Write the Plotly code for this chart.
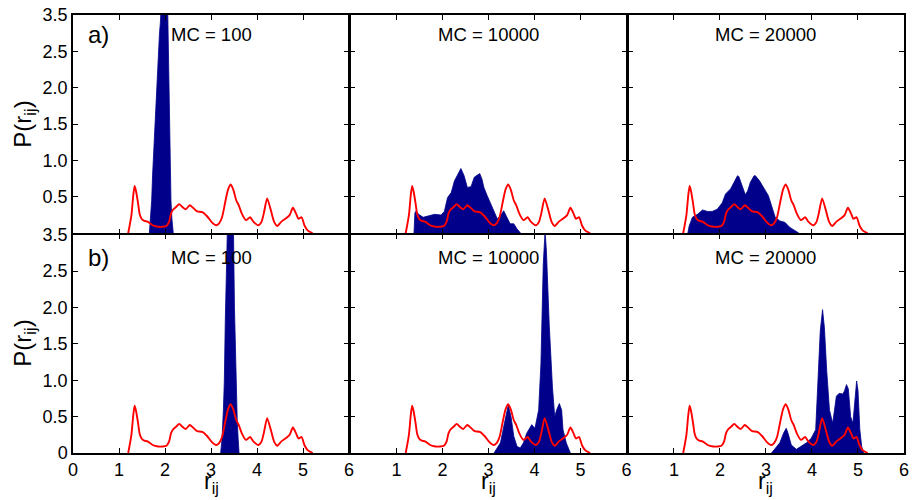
import plotly.graph_objects as go
from plotly.subplots import make_subplots

# ---------------- data ----------------
# reference distribution (red line), identical in every panel
ref_x = [1.20, 1.27, 1.31, 1.34, 1.37, 1.41, 1.45, 1.49, 1.55, 1.62, 1.73, 1.85, 1.95, 2.03, 2.09,
         2.13, 2.17, 2.24, 2.31, 2.38, 2.45, 2.54, 2.61, 2.70, 2.81, 2.92, 3.02, 3.11, 3.18, 3.24,
         3.31, 3.37, 3.43, 3.49, 3.55, 3.60, 3.67, 3.76, 3.85, 3.92, 4.03, 4.10, 4.15, 4.22, 4.30,
         4.37, 4.44, 4.53, 4.64, 4.71, 4.78, 4.85, 4.90, 4.97, 5.03, 5.10, 5.21]
ref_y = [0.00, 0.25, 0.52, 0.65, 0.58, 0.43, 0.26, 0.20, 0.17, 0.16, 0.11, 0.09, 0.09, 0.10, 0.16,
         0.27, 0.32, 0.36, 0.40, 0.36, 0.33, 0.385, 0.35, 0.30, 0.29, 0.23, 0.15, 0.11, 0.14, 0.22,
         0.43, 0.60, 0.67, 0.59, 0.45, 0.39, 0.27, 0.18, 0.22, 0.16, 0.11, 0.16, 0.28, 0.48, 0.32,
         0.16, 0.10, 0.16, 0.21, 0.25, 0.35, 0.27, 0.20, 0.22, 0.11, 0.04, 0.00]

# a) MC = 100
a100_x = [1.66, 1.69, 1.71, 1.73, 1.75, 1.77, 1.79, 1.81, 1.84, 1.86, 1.88, 1.90, 1.91, 1.93, 1.95,
          1.97, 2.00, 2.03, 2.05, 2.06, 2.07, 2.08, 2.09, 2.11, 2.13, 2.15, 2.18]
a100_y = [0.00, 0.25, 0.45, 0.80, 1.05, 1.40, 1.64, 1.90, 2.36, 2.55, 2.75, 2.90, 3.00, 3.40, 3.60,
          3.90, 4.20, 4.00, 3.40, 3.00, 2.70, 2.36, 1.64, 1.00, 0.45, 0.20, 0.00]
# a) MC = 10000
a10k_x = [1.38, 1.40, 1.43, 1.48, 1.58, 1.68, 1.83, 1.97, 2.04, 2.11, 2.19, 2.26, 2.33, 2.40, 2.47,
          2.54, 2.62, 2.69, 2.76, 2.81, 2.86, 2.90, 2.97, 3.05, 3.12, 3.19, 3.26, 3.33, 3.40, 3.47,
          3.55, 3.62, 3.70]
a10k_y = [0.00, 0.28, 0.31, 0.26, 0.22, 0.24, 0.26, 0.25, 0.30, 0.49, 0.56, 0.72, 0.81, 0.89, 0.79,
          0.63, 0.64, 0.77, 0.80, 0.82, 0.74, 0.63, 0.52, 0.40, 0.31, 0.20, 0.24, 0.31, 0.22, 0.13,
          0.13, 0.06, 0.00]
# a) MC = 20000
a20k_x = [1.30, 1.33, 1.40, 1.51, 1.62, 1.73, 1.83, 1.94, 2.05, 2.12, 2.23, 2.31, 2.38, 2.41, 2.48,
          2.55, 2.60, 2.66, 2.74, 2.77, 2.86, 2.96, 3.05, 3.12, 3.20, 3.30, 3.41, 3.52, 3.63, 3.72]
a20k_y = [0.00, 0.10, 0.22, 0.26, 0.32, 0.30, 0.30, 0.33, 0.42, 0.54, 0.61, 0.70, 0.79, 0.78, 0.64,
          0.53, 0.58, 0.70, 0.79, 0.79, 0.72, 0.61, 0.52, 0.38, 0.22, 0.17, 0.15, 0.08, 0.04, 0.00]

# b) MC = 100
b100_x = [3.21, 3.24, 3.27, 3.29, 3.31, 3.33, 3.36, 3.40, 3.44, 3.47, 3.49, 3.51, 3.54, 3.57, 3.59, 3.61]
b100_y = [0.00, 0.20, 0.60, 1.00, 1.80, 3.00, 3.80, 4.30, 4.00, 3.50, 3.00, 2.00, 1.00, 0.45, 0.20, 0.00]
# b) MC = 10000
b10k_x = [3.12, 3.26, 3.33, 3.43, 3.49, 3.55, 3.62, 3.69, 3.76, 3.83, 3.94, 4.01, 4.09, 4.14, 4.19,
          4.23, 4.26, 4.32, 4.39, 4.44, 4.48, 4.54, 4.59, 4.62, 4.69, 4.78]
b10k_y = [0.00, 0.14, 0.36, 0.66, 0.50, 0.23, 0.09, 0.07, 0.14, 0.27, 0.39, 0.34, 0.59, 1.23, 2.59,
          3.05, 2.77, 1.77, 0.91, 0.50, 0.59, 0.68, 0.59, 0.32, 0.14, 0.00]
# b) MC = 20000
b20k_x = [3.12, 3.30, 3.38, 3.44, 3.48, 3.55, 3.66, 3.77, 3.88, 3.98, 4.08, 4.13, 4.18, 4.23, 4.27,
          4.32, 4.38, 4.45, 4.49, 4.53, 4.59, 4.67, 4.71, 4.75, 4.79, 4.84, 4.89, 4.93, 4.97, 5.00,
          5.04, 5.08, 5.13]
b20k_y = [0.00, 0.14, 0.27, 0.34, 0.27, 0.11, 0.05, 0.09, 0.14, 0.20, 0.32, 1.00, 1.68, 1.97, 1.72,
          1.13, 0.59, 0.41, 0.59, 0.78, 0.82, 0.81, 0.86, 0.94, 0.88, 0.50, 0.41, 0.68, 0.99, 0.86,
          0.32, 0.09, 0.00]

mc_labels = ["MC = 100", "MC = 10000", "MC = 20000"]
panel_labels = ["a)", "b)"]
x_tickvals = [0, 1, 2, 3, 4, 5, 6]
y_tickvals = [0, 0.5, 1.0, 1.5, 2.0, 2.5, 3.0]
y_ticktext_bottom = ["0", "0.5", "1.0", "1.5", "2.0", "2.5", "3.5"]
y_ticktext_top = ["", "0.5", "1.0", "1.5", "2.0", "2.5", "3.5"]

series = [[(a100_x, a100_y), (a10k_x, a10k_y), (a20k_x, a20k_y)],
          [(b100_x, b100_y), (b10k_x, b10k_y), (b20k_x, b20k_y)]]

# ---------------- figure ----------------
BLUE = "#00008B"
RED = "#FF0000"
FONT = "Liberation Sans, Arial, sans-serif"
LW = 1.5

L, R, T, B = 73, 5, 13, 47
W, H = 914, 500
pw, ph = W - L - R, H - T - B

# a gap of one line width lets the neighbouring frame lines coincide
fig = make_subplots(rows=2, cols=3, horizontal_spacing=LW / pw, vertical_spacing=LW / ph)

for r in range(2):
    for c in range(3):
        bx, by = series[r][c]
        fig.add_trace(go.Scatter(x=bx, y=by, mode="lines", fill="tozeroy",
                                 fillcolor=BLUE, line=dict(color=BLUE, width=0.8),
                                 showlegend=False, hoverinfo="skip"), row=r + 1, col=c + 1)
        fig.add_trace(go.Scatter(x=ref_x, y=ref_y, mode="lines",
                                 line=dict(color=RED, width=1.9, shape="spline", smoothing=0.6),
                                 showlegend=False, hoverinfo="skip"), row=r + 1, col=c + 1)

axis_common = dict(showline=True, linecolor="black", linewidth=LW, mirror="ticks",
                   ticks="inside", ticklen=5, tickwidth=1.4, tickcolor="black",
                   showgrid=False, zeroline=False,
                   tickfont=dict(family=FONT, size=18, color="black"))

for r in range(2):
    for c in range(3):
        if r == 1:
            xt = [str(v) for v in x_tickvals] if c == 0 else [""] + [str(v) for v in x_tickvals[1:]]
            fig.update_xaxes(range=[0, 6], tickvals=x_tickvals, ticktext=xt,
                             showticklabels=True, row=r + 1, col=c + 1, **axis_common)
        else:
            fig.update_xaxes(range=[0, 6], tickvals=x_tickvals, showticklabels=False,
                             row=r + 1, col=c + 1, **axis_common)
        yt = y_ticktext_top if r == 0 else y_ticktext_bottom
        fig.update_yaxes(range=[0, 3.0], tickvals=y_tickvals, ticktext=yt,
                         showticklabels=(c == 0), row=r + 1, col=c + 1, **axis_common)


def px_x(px):
    return (px - L) / pw


def px_y(py):
    return (H - B - py) / ph


ann = []
row_text_y = [33, 257]
for r in range(2):
    ann.append(dict(text=panel_labels[r], x=px_x(86), y=px_y(row_text_y[r]), xref="paper", yref="paper",
                    xanchor="left", yanchor="middle", showarrow=False,
                    font=dict(family=FONT, size=24, color="black")))
    for c in range(3):
        ann.append(dict(text=mc_labels[c], x=(c + 0.5) / 3, y=px_y(row_text_y[r]), xref="paper", yref="paper",
                        xanchor="center", yanchor="middle", showarrow=False,
                        font=dict(family=FONT, size=18.5, color="black")))
    ann.append(dict(text="P(r<sub>ij</sub>)", x=px_x(24), y=0.75 - 0.5 * r, xref="paper", yref="paper",
                    xanchor="center", yanchor="middle", textangle=-90, showarrow=False,
                    font=dict(family=FONT, size=24, color="black")))
for c in range(3):
    ann.append(dict(text="r<sub>ij</sub>", x=(c + 0.5) / 3, y=px_y(466), xref="paper", yref="paper",
                    xanchor="center", yanchor="top", showarrow=False,
                    font=dict(family=FONT, size=23, color="black")))

fig.update_layout(width=W, height=H, margin=dict(l=L, r=R, t=T, b=B),
                  paper_bgcolor="white", plot_bgcolor="white",
                  annotations=ann, showlegend=False)

fig.write_html("out.html")
